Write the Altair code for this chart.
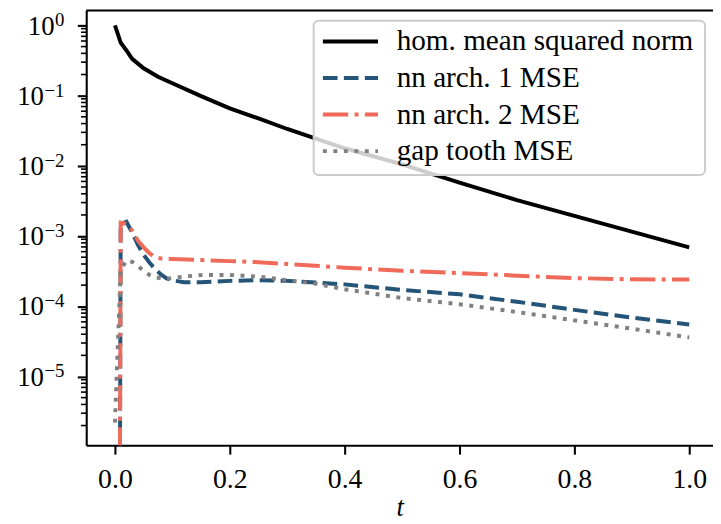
import math
import altair as alt
import pandas as pd

# ---------------- data ----------------
TINY = 1e-30  # an exact zero at t=0; on the log axis it falls far below the view

hom_t = [0.0, 0.01, 0.02, 0.03, 0.05, 0.075, 0.1, 0.15, 0.2, 0.25, 0.3, 0.4,
         0.5, 0.6, 0.7, 0.8, 0.9, 1.0]
hom_v = [1.0, 0.57, 0.44, 0.334, 0.245, 0.186, 0.150, 0.0984, 0.066, 0.0473,
         0.0335, 0.0178, 0.0105, 0.00575, 0.00326, 0.00194, 0.00116, 0.00069]

nn1_t = [0.0, 0.01, 0.02, 0.03, 0.04, 0.05, 0.06, 0.07, 0.08, 0.09, 0.1, 0.12,
         0.15, 0.2, 0.25, 0.3, 0.35, 0.4, 0.5, 0.6, 0.7, 0.8, 0.9, 1.0]
nn1_v = [TINY, 1.5e-3, 1.6e-3, 1.12e-3, 7.5e-4, 5.4e-4, 4.2e-4, 3.4e-4, 2.85e-4,
         2.5e-4, 2.35e-4, 2.2e-4, 2.2e-4, 2.3e-4, 2.35e-4, 2.3e-4, 2.18e-4,
         2.05e-4, 1.71e-4, 1.48e-4, 1.16e-4, 8.9e-5, 6.9e-5, 5.5e-5]

nn2_t = [0.0, 0.01, 0.02, 0.03, 0.04, 0.05, 0.06, 0.07, 0.08, 0.1, 0.15, 0.2,
         0.25, 0.3, 0.4, 0.5, 0.6, 0.7, 0.8, 0.9, 1.0]
nn2_v = [TINY, 1.55e-3, 1.5e-3, 1.2e-3, 8.6e-4, 6.9e-4, 5.7e-4, 5.0e-4, 4.8e-4,
         4.7e-4, 4.55e-4, 4.4e-4, 4.25e-4, 4.0e-4, 3.55e-4, 3.2e-4, 2.97e-4,
         2.73e-4, 2.52e-4, 2.42e-4, 2.4e-4]

gap_t = [0.0, 0.01, 0.02, 0.03, 0.04, 0.05, 0.06, 0.07, 0.08, 0.09, 0.1, 0.12,
         0.15, 0.2, 0.25, 0.3, 0.35, 0.4, 0.5, 0.6, 0.7, 0.8, 0.9, 1.0]
gap_v = [2.2e-6, 3.3e-4, 4.5e-4, 4.3e-4, 3.75e-4, 3.2e-4, 2.8e-4, 2.6e-4, 2.5e-4,
         2.47e-4, 2.52e-4, 2.65e-4, 2.78e-4, 2.8e-4, 2.65e-4, 2.35e-4, 2.1e-4,
         1.75e-4, 1.31e-4, 1.07e-4, 8.3e-5, 6.3e-5, 4.8e-5, 3.6e-5]

series_names = ["hom. mean squared norm", "nn arch. 1 MSE", "nn arch. 2 MSE", "gap tooth MSE"]
series_t = [hom_t, nn1_t, nn2_t, gap_t]
series_v = [hom_v, nn1_v, nn2_v, gap_v]

x_ticks = [0.0, 0.2, 0.4, 0.6, 0.8, 1.0]
y_major = [1e-5, 1e-4, 1e-3, 1e-2, 1e-1, 1.0]
y_base = ["10", "10", "10", "10", "10", "10"]
y_exp = ["\u22125", "\u22124", "\u22123", "\u22122", "\u22121", "0"]
y_minor = [m * 10.0 ** e for e in range(-6, 1) for m in range(2, 10)]

# ---------------- styles ----------------
FONT = "Liberation Serif"
TICK_FS = 27
XTICK_FS = 28
EXP_FS = 19
LEG_FS = 29.5
LW = 4.0
colors = ["#000000", "#245478", "#f06a5a", "#808080"]
dashes = [None, [14.8, 6.4], [25.6, 6.4, 4, 6.4], [4, 6.6]]

W, H = 633, 439
x_dom = [-0.05, 1.0414]
y_dom = [1.05e-6, 1.63]
x_scale = alt.Scale(domain=x_dom, nice=False, zero=False)
y_scale = alt.Scale(type="log", domain=y_dom, nice=False)

x_axis = alt.Axis(values=x_ticks, format=".1f", grid=False, domainColor="black",
                  domainWidth=2.1, tickColor="black", tickWidth=2.1, tickSize=9,
                  labelFont=FONT, labelFontSize=XTICK_FS, labelColor="black",
                  labelPadding=12, labelFlush=False, labelOverlap=False,
                  title="t", titleFont=FONT, titleFontStyle="italic",
                  titleFontWeight="normal", titleFontSize=27, titleColor="black",
                  titlePadding=1)
y_axis = alt.Axis(values=y_major, labels=False, grid=False,
                  domainColor="black", domainWidth=2.1, tickColor="black",
                  tickWidth=2.1, tickSize=9, title=None)

layers = []
for name, t, v, c, d in zip(series_names, series_t, series_v, colors, dashes):
    df = pd.DataFrame({"t": t, "v": v, "series": name})
    kw = dict(color=c, strokeWidth=LW, clip=True)
    if d:
        kw["strokeDash"] = d
    layers.append(
        alt.Chart(df).mark_line(**kw).encode(
            x=alt.X("t:Q", scale=x_scale, axis=x_axis),
            y=alt.Y("v:Q", scale=y_scale, axis=y_axis),
        )
    )

# minor ticks of the log axis
minor_df = pd.DataFrame({"v": [m for m in y_minor if y_dom[0] <= m <= y_dom[1]]})
layers.append(
    alt.Chart(minor_df).mark_rule(color="black", strokeWidth=1.6).encode(
        y=alt.Y("v:Q", scale=y_scale, axis=y_axis),
        x=alt.value(0), x2=alt.value(-5.3),
    )
)

# y tick labels: "10" with a raised exponent, right-aligned as a whole
EXP_RIGHT = -22.0
for v, b, e in zip(y_major, y_base, y_exp):
    ldf = pd.DataFrame({"v": [v], "b": [b], "e": [e]})
    exp_w = sum(0.564 * EXP_FS if ch == "\u2212" else 0.5 * EXP_FS for ch in e)
    layers.append(
        alt.Chart(ldf).mark_text(align="right", baseline="alphabetic", font=FONT,
                                 fontSize=EXP_FS, color="black", dy=1).encode(
            y=alt.Y("v:Q", scale=y_scale, axis=y_axis),
            x=alt.value(EXP_RIGHT), text="e:N",
        )
    )
    layers.append(
        alt.Chart(ldf).mark_text(align="right", baseline="alphabetic", font=FONT,
                                 fontSize=TICK_FS, color="black", dy=9.3).encode(
            y=alt.Y("v:Q", scale=y_scale, axis=y_axis),
            x=alt.value(EXP_RIGHT - exp_w - 0.5), text="b:N",
        )
    )

one = alt.Data(values=[{"k": 1}])
# top spine
layers.append(
    alt.Chart(one).mark_rule(color="black", strokeWidth=2.1).encode(
        x=alt.value(0), x2=alt.value(W), y=alt.value(0)
    )
)

# legend
LX0, LX1, LY0, LY1 = 229.7, 625.0, 10.3, 166.0
layers.append(
    alt.Chart(one).mark_rect(fill="white", fillOpacity=0.8, stroke="#cccccc",
                             strokeOpacity=1, strokeWidth=2, cornerRadius=5).encode(
        x=alt.value(LX0), x2=alt.value(LX1), y=alt.value(LY0), y2=alt.value(LY1)
    )
)
ROW0, ROWSTEP = 31.3, 36.9
for i, (name, c, d) in enumerate(zip(series_names, colors, dashes)):
    yrow = ROW0 + ROWSTEP * i
    rkw = dict(color=c, strokeWidth=LW)
    if d:
        rkw["strokeDash"] = d
    ldf = alt.Data(values=[{"label": name}])
    layers.append(
        alt.Chart(ldf).mark_rule(**rkw).encode(
            x=alt.value(239), x2=alt.value(294.7), y=alt.value(yrow)
        )
    )
    layers.append(
        alt.Chart(ldf).mark_text(align="left", baseline="alphabetic", font=FONT,
                                 fontSize=LEG_FS, color="black").encode(
            x=alt.value(313.5), y=alt.value(yrow + 9), text="label:N"
        )
    )

chart = alt.layer(*layers).properties(
    width=W, height=H,
    padding={"left": 79, "top": 0, "right": 0, "bottom": 77},
    autosize=alt.AutoSizeParams(type="none"),
    background="white",
).configure_view(stroke=None)

chart.save("out.html", embed_options={"renderer": "svg", "actions": False})
